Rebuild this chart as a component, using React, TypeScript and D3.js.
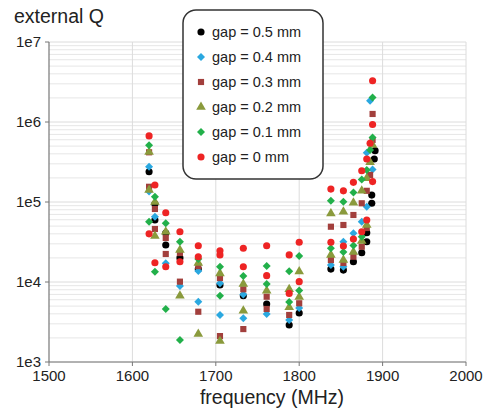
import * as d3 from "d3";

// frequency (MHz), external Q
const gap05: [number, number][] = [
  [1620, 239000], [1627, 94400], [1627, 59600], [1640, 41000], [1640, 29000],
  [1657, 20000], [1679, 14500], [1705, 9170], [1733, 6740], [1761, 5310],
  [1788, 2900], [1800, 4100], [1838, 14500], [1853, 14100], [1865, 17900],
  [1875, 23200], [1881, 41300], [1881, 31900], [1887, 96400], [1887, 122000],
  [1890, 345000], [1891, 438000],
];
const gap04: [number, number][] = [
  [1620, 276000], [1620, 135000], [1627, 65500], [1640, 17100], [1657, 8910],
  [1679, 13700], [1679, 5670], [1705, 9640], [1705, 3870], [1733, 7000],
  [1733, 3520], [1761, 3980], [1788, 3350], [1800, 4730], [1838, 16300],
  [1853, 31900], [1853, 15500], [1865, 40600], [1875, 56700], [1881, 87400],
  [1881, 413000], [1885, 1850000], [1888, 255000],
];
const gap03: [number, number][] = [
  [1620, 418000], [1620, 155000], [1627, 81800], [1627, 46000], [1640, 35500],
  [1640, 22400], [1657, 23000], [1657, 10100], [1679, 15800], [1679, 4250],
  [1705, 11200], [1705, 2110], [1733, 8110], [1733, 2580], [1761, 6550],
  [1761, 4600], [1788, 3870], [1800, 5420], [1838, 49100], [1838, 18800],
  [1853, 51600], [1853, 17300], [1865, 68800], [1865, 20700], [1875, 96400],
  [1875, 27600], [1881, 138000], [1881, 47300], [1885, 218000], [1888, 1260000],
  [1888, 596000],
];
const gap02: [number, number][] = [
  [1620, 422000], [1620, 141000], [1627, 100000], [1627, 37600], [1640, 42500],
  [1657, 25100], [1657, 6740], [1679, 17300], [1679, 2240], [1705, 12800],
  [1705, 1830], [1733, 9440], [1733, 4370], [1761, 7790], [1788, 8110],
  [1788, 4830], [1800, 13500], [1800, 6490], [1838, 71800], [1838, 21800],
  [1853, 75600], [1853, 18800], [1865, 98000], [1865, 23700], [1875, 138000],
  [1875, 32500], [1881, 198000], [1881, 51600], [1885, 314000], [1888, 516000],
];
const gap01: [number, number][] = [
  [1620, 511000], [1620, 56700], [1627, 116000], [1627, 13400], [1640, 54200],
  [1640, 4600], [1657, 31900], [1657, 1880], [1679, 19400], [1705, 15500],
  [1705, 6740], [1733, 11900], [1761, 15800], [1761, 9440], [1788, 13600],
  [1788, 5620], [1800, 21100], [1800, 7830], [1838, 104000], [1838, 26400],
  [1853, 101000], [1853, 23700], [1865, 131000], [1865, 28600], [1875, 191000],
  [1875, 36800], [1881, 251000], [1885, 447000], [1888, 2020000], [1888, 640000],
];
const gap00: [number, number][] = [
  [1620, 670000], [1620, 40000], [1627, 163000], [1627, 17400], [1640, 73500],
  [1640, 15500], [1657, 42500], [1657, 17900], [1679, 28400], [1679, 20700],
  [1705, 24600], [1705, 21800], [1733, 26400], [1733, 15500], [1761, 28400],
  [1761, 12000], [1788, 21800], [1788, 7200], [1800, 31400], [1800, 10100],
  [1838, 145000], [1838, 31400], [1853, 138000], [1853, 28200], [1865, 176000],
  [1865, 34500], [1875, 246000], [1875, 42500], [1881, 345000], [1881, 59600],
  [1885, 542000], [1888, 3280000], [1888, 931000], [1888, 180000],
];

const seriesNames = ["gap = 0.5 mm", "gap = 0.4 mm", "gap = 0.3 mm", "gap = 0.2 mm", "gap = 0.1 mm", "gap = 0 mm"];
const seriesData = [gap05, gap04, gap03, gap02, gap01, gap00];
const xTicks = [1500, 1600, 1700, 1800, 1900, 2000];
const yTicks = [1e3, 1e4, 1e5, 1e6, 1e7];
const yTickLabels = ["1e3", "1e4", "1e5", "1e6", "1e7"];

const colors = ["#000000", "#2aa8e0", "#a23f3c", "#8a9a3c", "#22b04a", "#ee2424"];
const shapes = ["circle", "diamond", "square", "triangle", "diamond", "circle"];

const FONT = "'Liberation Sans', Arial, sans-serif";

const symbolPath = (shape: string) => {
  if (shape === "circle") return d3.symbol(d3.symbolCircle, 40)();
  if (shape === "square") return d3.symbol(d3.symbolSquare, 38)();
  if (shape === "triangle") return d3.symbol(d3.symbolTriangle, 40)();
  return d3.symbol(d3.symbolSquare, 32)();
};

const Marker = ({ shape, color, x, y }) => (
  <path
    d={symbolPath(shape) || ""}
    fill={color}
    transform={`translate(${x},${y})${shape === "diamond" ? " rotate(45)" : ""}`}
  />
);

export default function App() {
  const x = d3.scaleLinear().domain([1500, 2000]).range([49, 466]);
  const y = d3.scaleLog().domain([1e3, 1e7]).range([362, 42]);

  // minor log grid lines
  const minor: number[] = [];
  for (let e = 3; e < 7; e++) for (let m = 2; m <= 9; m++) minor.push(m * Math.pow(10, e));

  return (
    <svg
      width={493}
      height={411}
      style={{ position: "absolute", left: 0, top: 0, background: "#fff" }}
      fontFamily={FONT}
    >
      <rect width={493} height={411} fill="#fff" />
      {minor.map((v) => (
        <line key={"m" + v} x1={x(1500)} x2={x(2000)} y1={y(v)} y2={y(v)} stroke="#e6e6e6" strokeWidth={1} />
      ))}
      {yTicks.map((v) => (
        <line key={"M" + v} x1={x(1500)} x2={x(2000)} y1={y(v)} y2={y(v)} stroke="#dcdcdc" strokeWidth={1} />
      ))}
      {xTicks.slice(1).map((v) => (
        <line key={"v" + v} x1={x(v)} x2={x(v)} y1={y(1e7)} y2={y(1e3)} stroke="#dcdcdc" strokeWidth={1} />
      ))}

      {/* axes */}
      <line x1={x(1500)} x2={x(1500)} y1={y(1e7)} y2={y(1e3)} stroke="#777" strokeWidth={1.2} />
      <line x1={x(1500)} x2={x(2000)} y1={y(1e3)} y2={y(1e3)} stroke="#777" strokeWidth={1.2} />
      {yTicks.map((v, i) => (
        <g key={"yt" + v}>
          <line x1={x(1500) - 4} x2={x(1500)} y1={y(v)} y2={y(v)} stroke="#777" />
          <text x={41} y={y(v) + 5} textAnchor="end" fontSize={15} fill="#222">
            {yTickLabels[i]}
          </text>
        </g>
      ))}
      {xTicks.map((v) => (
        <g key={"xt" + v}>
          <line x1={x(v)} x2={x(v)} y1={y(1e3)} y2={y(1e3) + 4} stroke="#777" />
          <text x={x(v)} y={381} textAnchor="middle" fontSize={15} fill="#222">
            {v}
          </text>
        </g>
      ))}

      {/* points */}
      {seriesData.map((data, si) =>
        data.map((d, i) => (
          <Marker key={si + "-" + i} shape={shapes[si]} color={colors[si]} x={x(d[0])} y={y(d[1])} />
        ))
      )}

      {/* legend */}
      <rect x={183} y={10} width={140} height={169} rx={13} ry={13} fill="#fff" stroke="#333" strokeWidth={1.5} />
      {seriesNames.map((name, i) => (
        <g key={name} transform={`translate(201,${32 + i * 25})`}>
          <Marker shape={shapes[i]} color={colors[i]} x={0} y={0} />
          <text x={11} y={5} fontSize={14.5} fill="#222">
            {name}
          </text>
        </g>
      ))}

      <text x={14} y={23} fontSize={19.5} fill="#222">
        external Q
      </text>
      <text x={272} y={404} textAnchor="middle" fontSize={19.5} fill="#222">
        frequency (MHz)
      </text>
    </svg>
  );
}
